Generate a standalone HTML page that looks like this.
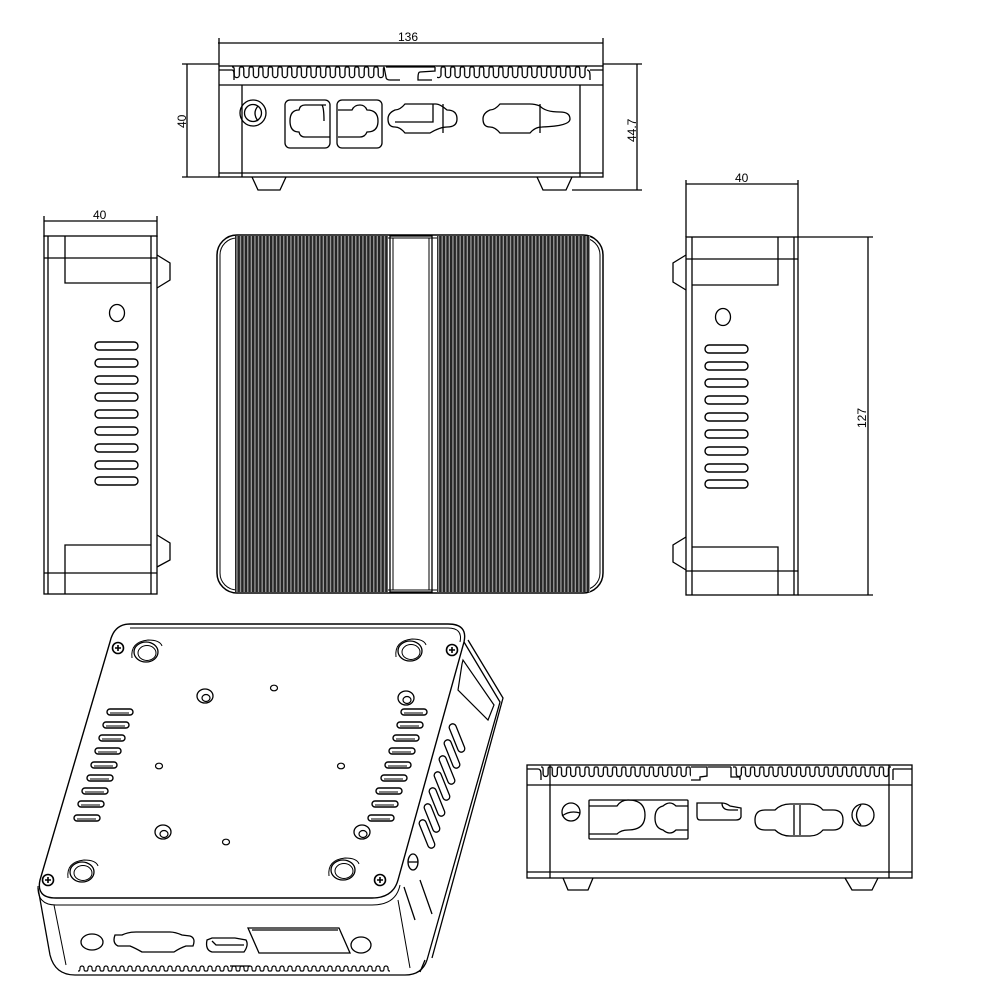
<!DOCTYPE html>
<html><head><meta charset="utf-8"><style>
html,body{margin:0;padding:0;background:#fff;width:1000px;height:1000px;overflow:hidden}
svg{display:block}
text{font-family:"Liberation Sans",sans-serif;font-size:12px;fill:#000}
</style></head><body>
<svg width="1000" height="1000" viewBox="0 0 1000 1000" xmlns="http://www.w3.org/2000/svg">
<defs>
<pattern id="fins" x="0" y="0" width="3.6" height="10" patternUnits="userSpaceOnUse">
<rect width="3.6" height="10" fill="#9a9a9a"/><rect x="0" width="2.3" height="10" fill="#262626"/>
</pattern>
<pattern id="wave" x="232" y="66" width="9.6" height="20" patternUnits="userSpaceOnUse">
<path d="M0,1 L1,1 Q2.2,1 2.2,4 L2.2,9 A2.6,2.6 0 0 0 7.4,9 L7.4,4 Q7.4,1 8.6,1 L9.6,1" fill="none" stroke="#000" stroke-width="1.3"/>
</pattern>
<pattern id="wave2" x="541" y="766" width="9.2" height="20" patternUnits="userSpaceOnUse">
<path d="M0,1 L1,1 Q2.1,1 2.1,4 L2.1,8 A2.5,2.5 0 0 0 7.1,8 L7.1,4 Q7.1,1 8.2,1 L9.2,1" fill="none" stroke="#000" stroke-width="1.3"/>
</pattern>
<pattern id="wave3" x="78" y="963" width="8" height="12" patternUnits="userSpaceOnUse">
<path d="M0,8 L1,8 Q2,8 2,5 A2,2 0 0 1 6,5 Q6,8 7,8 L8,8" fill="none" stroke="#000" stroke-width="1.2"/>
</pattern>
<g id="slot"><rect x="0" y="-4" width="43" height="8" rx="4" fill="none" stroke="#000" stroke-width="1.4"/></g>
<g id="screw"><circle r="5.5" fill="none" stroke="#000" stroke-width="1.6"/><path d="M-3,0 H3 M0,-3 V3" stroke="#000" stroke-width="1.6"/></g>
<g id="foot"><ellipse rx="12" ry="10" fill="none" stroke="#000" stroke-width="1.3"/><ellipse cx="1" cy="1" rx="9" ry="7.5" fill="none" stroke="#000" stroke-width="1"/><path d="M-14,6 Q-16,-10 2,-12 Q14,-12 16,-6" fill="none" stroke="#000" stroke-width="1"/></g>
<g id="boss"><ellipse rx="8" ry="7" fill="none" stroke="#000" stroke-width="1.3"/><ellipse cx="1" cy="2" rx="4" ry="3.5" fill="none" stroke="#000" stroke-width="1.2"/></g>
<g id="hole"><ellipse rx="3.5" ry="2.8" fill="none" stroke="#000" stroke-width="1.2"/></g>
<g id="islot"><rect x="0" y="-3" width="26" height="6" rx="3" fill="none" stroke="#000" stroke-width="1.4"/><path d="M3,1 H22" stroke="#000" stroke-width="1"/></g>
<g id="sslot"><rect x="-3.5" y="-15" width="7" height="30" rx="3.5" fill="none" stroke="#000" stroke-width="1.3" transform="rotate(-22)"/></g>
</defs>
<g fill="none" stroke="#000" stroke-width="1.3">

<!-- ===== TOP FRONT VIEW ===== -->
<line x1="218" y1="43" x2="603" y2="43"/>
<line x1="219" y1="38" x2="219" y2="66"/><line x1="603" y1="38" x2="603" y2="66"/>
<line x1="187" y1="64" x2="187" y2="177"/>
<line x1="182" y1="64" x2="219" y2="64"/><line x1="182" y1="177" x2="219" y2="177"/>
<line x1="637" y1="64" x2="637" y2="190"/>
<line x1="603" y1="64" x2="642" y2="64"/><line x1="572" y1="190" x2="642" y2="190"/>
<rect x="219" y="66" width="384" height="111"/>
<rect x="232" y="66" width="152" height="19" fill="url(#wave)" stroke="none"/>
<rect x="437" y="66" width="150" height="19" fill="url(#wave)" stroke="none"/>
<path d="M219,70 L232,70 Q234,70 234,74 L234,80 M384,67 L386,77 Q386,80 390,80 L400,80 M386,67 L435,67 M435,67 L435,71 L420,72 Q418,72 418,78 L418,80 L432,80 M587,70 Q590,70 590,75 L590,80 M590,70 L603,70"/>
<line x1="219" y1="85" x2="603" y2="85"/>
<line x1="219" y1="173" x2="603" y2="173"/>
<line x1="242" y1="85" x2="242" y2="177"/><line x1="580" y1="85" x2="580" y2="177"/>
<path d="M252,177 L258,190 L280,190 L286,177"/>
<path d="M537,177 L543,190 L566,190 L572,177"/>
<circle cx="253" cy="113" r="13"/><circle cx="253" cy="113" r="8.5"/><path d="M258,106 Q252,113 258,121"/>
<rect x="285" y="100" width="45" height="48" rx="5"/>
<path d="M326,105 L305,105 Q300,105 299,110 Q290,110 290,121 Q290,132 299,132 Q300,137 305,137 L330,137 M322,105 Q324,108 324,121"/>
<rect x="337" y="100" width="45" height="48" rx="5"/>
<path d="M338,110 L352,110 Q354,105 360,105 Q365,105 367,110 Q378,110 378,121 Q378,132 367,132 Q365,137 360,137 L338,137"/>
<path d="M436,104 L405,104 Q400,110 395,110 Q388,113 388,119 Q388,127 395,127 Q400,127 405,133 L430,133 Q440,127 447,127 Q457,127 457,119 Q457,110 447,110 Q440,104 436,104 M425,104 L433,104 L433,122 L395,122"/>
<line x1="443" y1="104" x2="443" y2="133"/>
<path d="M530,104 L500,104 Q495,110 490,110 Q483,113 483,119 Q483,127 490,127 Q495,127 500,133 L530,133 Q535,127 542,127 Q570,126 570,119 Q570,112 560,112 Q545,112 540,106 Q535,104 530,104"/>
<line x1="540" y1="104" x2="540" y2="133"/>

<!-- ===== LEFT SIDE VIEW ===== -->
<line x1="44" y1="221" x2="157" y2="221"/>
<line x1="44" y1="216" x2="44" y2="237"/><line x1="157" y1="216" x2="157" y2="237"/>
<rect x="44" y="236" width="113" height="358"/>
<line x1="48" y1="236" x2="48" y2="594"/>
<line x1="151" y1="236" x2="151" y2="594"/>
<line x1="44" y1="258" x2="157" y2="258"/>
<path d="M65,236 L65,283 L151,283"/>
<path d="M65,594 L65,545 L151,545"/>
<line x1="44" y1="573" x2="157" y2="573"/>
<path d="M157,255 L170,263 L170,280 L157,288"/>
<path d="M157,535 L170,543 L170,560 L157,567"/>
<ellipse cx="117" cy="313" rx="7.5" ry="8.5"/>
<use href="#slot" x="95" y="346"/><use href="#slot" x="95" y="363"/><use href="#slot" x="95" y="380"/><use href="#slot" x="95" y="397"/><use href="#slot" x="95" y="414"/><use href="#slot" x="95" y="431"/><use href="#slot" x="95" y="448"/><use href="#slot" x="95" y="465"/><use href="#slot" x="95" y="481"/>

<!-- ===== TOP VIEW (CENTER) ===== -->
<rect x="217" y="235" width="386" height="358" rx="20" stroke-width="1.5"/>
<rect x="220" y="238" width="380" height="352" rx="17" stroke-width="1"/>
<rect x="235" y="236" width="153" height="356" fill="url(#fins)" stroke="none"/>
<rect x="437" y="236" width="153" height="356" fill="url(#fins)" stroke="none"/>
<rect x="390" y="236" width="42" height="356"/>
<rect x="393" y="238" width="36" height="352" stroke-width="1"/>

<!-- ===== RIGHT SIDE VIEW ===== -->
<line x1="686" y1="184" x2="798" y2="184"/>
<line x1="686" y1="180" x2="686" y2="237"/><line x1="798" y1="180" x2="798" y2="237"/>
<rect x="686" y="237" width="112" height="358"/>
<line x1="692" y1="237" x2="692" y2="595"/>
<line x1="794" y1="237" x2="794" y2="595"/>
<line x1="686" y1="259" x2="798" y2="259"/>
<path d="M692,285 L778,285 L778,237"/>
<path d="M692,547 L778,547 L778,595"/>
<line x1="686" y1="571" x2="798" y2="571"/>
<path d="M686,255 L673,263 L673,282 L686,290"/>
<path d="M686,537 L673,545 L673,562 L686,570"/>
<ellipse cx="723" cy="317" rx="7.5" ry="8.5"/>
<use href="#slot" x="705" y="349"/><use href="#slot" x="705" y="366"/><use href="#slot" x="705" y="383"/><use href="#slot" x="705" y="400"/><use href="#slot" x="705" y="417"/><use href="#slot" x="705" y="434"/><use href="#slot" x="705" y="451"/><use href="#slot" x="705" y="468"/><use href="#slot" x="705" y="484"/>
<line x1="868" y1="237" x2="868" y2="595"/>
<line x1="798" y1="237" x2="873" y2="237"/><line x1="798" y1="595" x2="873" y2="595"/>

<!-- ===== BOTTOM-RIGHT FRONT VIEW ===== -->
<rect x="527" y="765" width="385" height="113"/>
<rect x="541" y="766" width="150" height="18" fill="url(#wave2)" stroke="none"/>
<rect x="733" y="766" width="158" height="18" fill="url(#wave2)" stroke="none"/>
<path d="M527,769 L538,769 Q541,769 541,774 L541,780 M691,767 L707,767 L707,776 L700,777 L700,780 L691,780 M731,767 L731,777 L740,777 L740,780 M731,767 L708,767 M893,769 L893,780 M893,769 L912,769"/>
<line x1="527" y1="785" x2="912" y2="785"/>
<line x1="527" y1="872" x2="912" y2="872"/>
<line x1="550" y1="765" x2="550" y2="878"/><line x1="889" y1="765" x2="889" y2="878"/>
<path d="M563,878 L568,890 L588,890 L593,878"/>
<path d="M845,878 L852,890 L872,890 L878,878"/>
<circle cx="571" cy="812" r="9"/><path d="M562,816 Q570,810 580,813"/>
<rect x="589" y="800" width="99" height="39" rx="1"/>
<path d="M589,806 L617,806 Q621,800 628,800 Q645,800 645,815 Q645,830 628,830 Q621,830 617,834 L589,834"/>
<path d="M688,806 L676,806 Q670,800 663,806 Q655,808 655,818 Q655,828 663,830 Q670,836 676,830 L688,830"/>
<path d="M697,803 L722,803 Q726,803 730,806 L741,808 L741,817 Q740,820 736,820 L700,820 Q697,820 697,816 Z M722,803 Q722,810 730,810 L738,810"/>
<path d="M765,810 L775,810 Q781,804 790,804 L810,804 Q818,804 823,810 L833,810 Q843,810 843,820 Q843,830 833,830 L823,830 Q818,836 810,836 L790,836 Q781,836 775,830 L765,830 Q755,830 755,820 Q755,810 765,810"/>
<line x1="794" y1="805" x2="794" y2="835"/><line x1="800" y1="805" x2="800" y2="835"/>
<circle cx="863" cy="815" r="11"/><path d="M861,805 Q852,815 861,825"/>

<!-- ===== ISOMETRIC VIEW ===== -->
<path d="M130,624 L448,624 Q468,624 464,642 L398,880 Q393,898 372,898 L56,898 Q36,898 40,880 L110,642 Q114,624 130,624 Z" stroke-width="1.4"/>
<path d="M130,628 L448,628 Q463,628 460,642" stroke-width="1"/>
<path d="M38,886 Q37,905 56,905 L372,905 Q396,905 400,885" stroke-width="1"/>
<path d="M464,642 L500,702 L427,960"/>
<path d="M468,640 L503,698 L432,958"/>
<path d="M38,888 L50,955 Q55,975 75,975 L405,975 Q422,975 427,960" />
<path d="M398,900 L410,968" stroke-width="1"/>
<path d="M54,905 L66,965" stroke-width="1"/>
<path d="M404,887 L415,920 M420,880 L432,914 M425,960 L420,972"/>
<path d="M462,664 L463,660 L494,705 L488,720 L458,690 Z" stroke-width="1.2"/>
<rect x="78" y="963" width="312" height="12" fill="url(#wave3)" stroke="none"/>
<line x1="230" y1="966" x2="250" y2="966"/>
<ellipse cx="92" cy="942" rx="11" ry="8"/>
<path d="M115,935 Q112,943 118,946 L130,946 Q135,948 142,952 L174,952 Q180,948 186,946 L193,946 Q196,938 190,936 L182,935 Q175,932 170,932 L136,932 Q128,932 122,935 Z"/>
<path d="M207,940 Q205,950 212,952 L244,952 Q249,945 246,940 L235,938 L212,938 Z M212,941 L216,945 L244,945"/>
<path d="M248,928 L339,928 L350,953 L259,953 Z M252,930 L338,930"/>
<ellipse cx="361" cy="945" rx="10" ry="8"/>
<use href="#screw" x="118" y="648"/><use href="#screw" x="452" y="650"/><use href="#screw" x="48" y="880"/><use href="#screw" x="380" y="880"/>
<use href="#foot" x="146" y="652"/><use href="#foot" x="410" y="651"/><use href="#foot" x="82" y="872"/><use href="#foot" x="343" y="870"/>
<use href="#boss" x="205" y="696"/><use href="#boss" x="406" y="698"/><use href="#boss" x="163" y="832"/><use href="#boss" x="362" y="832"/>
<use href="#hole" x="274" y="688"/><use href="#hole" x="159" y="766"/><use href="#hole" x="341" y="766"/><use href="#hole" x="226" y="842"/>
<use href="#islot" x="107" y="712"/><use href="#islot" x="103" y="725"/><use href="#islot" x="99" y="738"/><use href="#islot" x="95" y="751"/><use href="#islot" x="91" y="765"/><use href="#islot" x="87" y="778"/><use href="#islot" x="82" y="791"/><use href="#islot" x="78" y="804"/><use href="#islot" x="74" y="818"/>
<use href="#islot" x="401" y="712"/><use href="#islot" x="397" y="725"/><use href="#islot" x="393" y="738"/><use href="#islot" x="389" y="751"/><use href="#islot" x="385" y="765"/><use href="#islot" x="381" y="778"/><use href="#islot" x="376" y="791"/><use href="#islot" x="372" y="804"/><use href="#islot" x="368" y="818"/>
<use href="#sslot" x="457" y="738"/><use href="#sslot" x="452" y="754"/><use href="#sslot" x="447" y="770"/><use href="#sslot" x="442" y="786"/><use href="#sslot" x="437" y="802"/><use href="#sslot" x="432" y="818"/><use href="#sslot" x="427" y="834"/>
<ellipse cx="413" cy="862" rx="5" ry="8"/><line x1="408" y1="862" x2="418" y2="862"/>
</g>

<text x="398" y="41">136</text>
<text x="0" y="0" transform="translate(186,128) rotate(-90)">40</text>
<text x="0" y="0" transform="translate(636,142) rotate(-90)">44.7</text>
<text x="93" y="219">40</text>
<text x="735" y="182">40</text>
<text x="0" y="0" transform="translate(866,428) rotate(-90)">127</text>
</svg>
</body></html>
